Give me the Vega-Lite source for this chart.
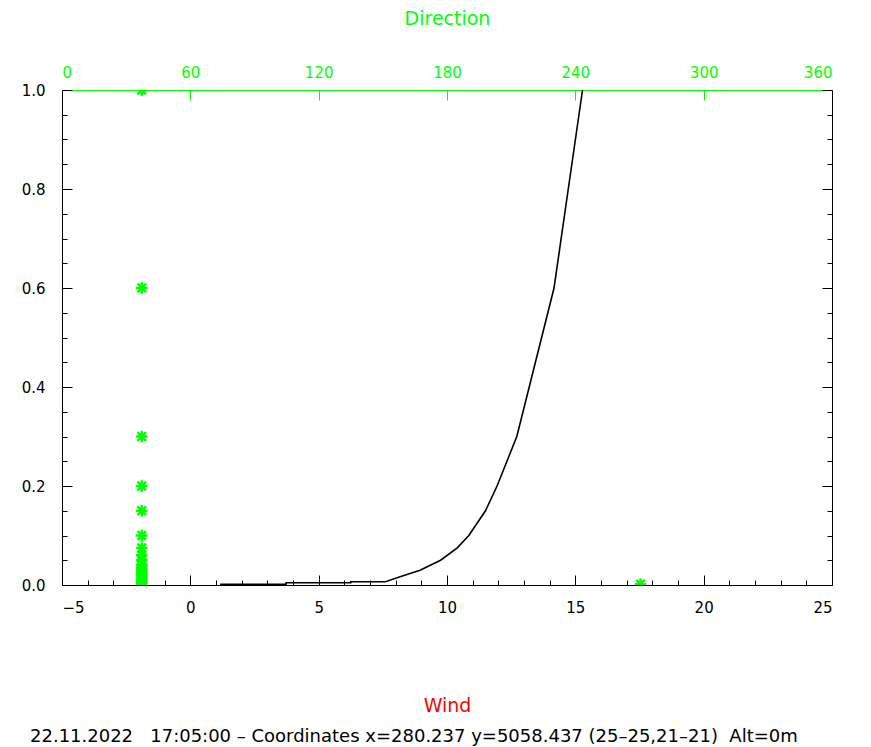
{
  "$schema": "https://vega.github.io/schema/vega-lite/v6.json",
  "autosize": {"type": "none"},
  "width": 770,
  "height": 495,
  "padding": {"left": 62, "top": 90, "right": 39, "bottom": 162},
  "background": "white",
  "view": {"stroke": null},
  "title": {
    "text": "22.11.2022\u00a0\u00a0\u00a017:05:00\u00a0–\u00a0Coordinates x=280.237 y=5058.437 (25–25,21–21)\u00a0\u00a0Alt=0m",
    "orient": "bottom",
    "anchor": "start",
    "frame": "group",
    "dx": -32,
    "font": "DejaVu Sans",
    "fontSize": 18,
    "fontWeight": "normal",
    "color": "black",
    "offset": 13
  },
  "config": {
    "font": "DejaVu Sans",
    "axis": {
      "labelFont": "DejaVu Sans",
      "labelFontSize": 15,
      "labelColor": "black",
      "tickColor": "black",
      "domainColor": "black",
      "grid": false,
      "titleFont": "DejaVu Sans",
      "titleFontWeight": "normal",
      "titleFontSize": 19
    }
  },
  "datasets": {
    "profile": [
      {"i": 0, "wind": 1.16, "z": 0.0015},
      {"i": 1, "wind": 3.73, "z": 0.0015},
      {"i": 2, "wind": 3.73, "z": 0.0045},
      {"i": 3, "wind": 6.25, "z": 0.0045},
      {"i": 4, "wind": 6.25, "z": 0.0067},
      {"i": 5, "wind": 7.6, "z": 0.0067},
      {"i": 6, "wind": 8.2, "z": 0.017},
      {"i": 7, "wind": 8.95, "z": 0.03},
      {"i": 8, "wind": 9.75, "z": 0.05},
      {"i": 9, "wind": 10.4, "z": 0.075},
      {"i": 10, "wind": 10.85, "z": 0.1},
      {"i": 11, "wind": 11.5, "z": 0.15},
      {"i": 12, "wind": 11.95, "z": 0.2},
      {"i": 13, "wind": 12.72, "z": 0.3},
      {"i": 14, "wind": 14.17, "z": 0.6},
      {"i": 15, "wind": 15.28, "z": 1.0}
    ],
    "dir": [
      {"direction": 37.3, "z": 1.0},
      {"direction": 37.3, "z": 0.6},
      {"direction": 37.3, "z": 0.3},
      {"direction": 37.3, "z": 0.2},
      {"direction": 37.3, "z": 0.15},
      {"direction": 37.3, "z": 0.1},
      {"direction": 37.3, "z": 0.075},
      {"direction": 37.3, "z": 0.06},
      {"direction": 37.3, "z": 0.05},
      {"direction": 37.3, "z": 0.04},
      {"direction": 37.3, "z": 0.035},
      {"direction": 37.3, "z": 0.03},
      {"direction": 37.3, "z": 0.025},
      {"direction": 37.3, "z": 0.02},
      {"direction": 37.3, "z": 0.015},
      {"direction": 37.3, "z": 0.01},
      {"direction": 37.3, "z": 0.0067},
      {"direction": 37.3, "z": 0.0045},
      {"direction": 37.3, "z": 0.0015},
      {"direction": 270.5, "z": 0.0015}
    ]
  },
  "resolve": {
    "scale": {"x": "independent", "y": "independent"},
    "axis": {"x": "independent", "y": "independent"}
  },
  "layer": [
    {
      "data": {"name": "profile"},
      "mark": {"type": "line", "color": "black", "strokeWidth": 1.6},
      "encoding": {
        "x": {
          "field": "wind", "type": "quantitative",
          "scale": {"domain": [-5, 25], "nice": false, "zero": false},
          "axis": {
            "orient": "bottom",
            "values": [-5, 0, 5, 10, 15, 20, 25],
            "tickSize": -10,
            "labelPadding": 25,
            "title": "Wind",
            "titleColor": "red",
            "titlePadding": 81
          }
        },
        "y": {
          "field": "z", "type": "quantitative",
          "scale": {"domain": [0, 1], "nice": false},
          "axis": {
            "orient": "left",
            "values": [0, 0.2, 0.4, 0.6, 0.8, 1.0],
            "format": ".1f",
            "tickSize": -10,
            "labelPadding": 27,
            "title": null
          }
        },
        "order": {"field": "i", "type": "quantitative"}
      }
    },
    {
      "data": {"name": "profile"},
      "mark": {"type": "point", "opacity": 0},
      "encoding": {
        "x": {
          "field": "wind", "type": "quantitative",
          "scale": {"domain": [-5, 25], "nice": false, "zero": false},
          "axis": {
            "orient": "bottom",
            "values": [-4, -3, -2, -1, 1, 2, 3, 4, 6, 7, 8, 9, 11, 12, 13, 14, 16, 17, 18, 19, 21, 22, 23, 24],
            "tickSize": -5,
            "labels": false,
            "domain": false,
            "title": null
          }
        },
        "y": {
          "field": "z", "type": "quantitative",
          "scale": {"domain": [0, 1], "nice": false},
          "axis": {
            "orient": "left",
            "values": [0.05, 0.1, 0.15, 0.25, 0.3, 0.35, 0.45, 0.5, 0.55, 0.65, 0.7, 0.75, 0.85, 0.9, 0.95],
            "tickSize": -5,
            "labels": false,
            "domain": false,
            "title": null
          }
        }
      }
    },
    {
      "data": {"name": "profile"},
      "mark": {"type": "point", "opacity": 0},
      "encoding": {
        "y": {
          "field": "z", "type": "quantitative",
          "scale": {"domain": [0, 1], "nice": false},
          "axis": {
            "orient": "right",
            "values": [0, 0.2, 0.4, 0.6, 0.8, 1.0],
            "tickSize": -10,
            "labels": false,
            "title": null
          }
        }
      }
    },
    {
      "data": {"name": "profile"},
      "mark": {"type": "point", "opacity": 0},
      "encoding": {
        "y": {
          "field": "z", "type": "quantitative",
          "scale": {"domain": [0, 1], "nice": false},
          "axis": {
            "orient": "right",
            "values": [0.05, 0.1, 0.15, 0.25, 0.3, 0.35, 0.45, 0.5, 0.55, 0.65, 0.7, 0.75, 0.85, 0.9, 0.95],
            "tickSize": -5,
            "labels": false,
            "domain": false,
            "title": null
          }
        }
      }
    },
    {
      "data": {"name": "dir"},
      "mark": {
        "type": "point",
        "shape": "M-1,0L1,0M0,-1L0,1M-0.75,-0.75L0.75,0.75M-0.75,0.75L0.75,-0.75",
        "filled": false,
        "color": "#00ff00",
        "strokeWidth": 2.5,
        "size": 130,
        "opacity": 1,
        "clip": true
      },
      "encoding": {
        "x": {
          "field": "direction", "type": "quantitative",
          "scale": {"domain": [0, 360], "nice": false, "zero": false},
          "axis": {
            "orient": "top",
            "values": [0, 60, 120, 180, 240, 300, 360],
            "tickSize": -10,
            "labelPadding": 20,
            "labelColor": "#00ff00",
            "tickColor": "#00ff00",
            "domainColor": "#00ff00",
            "title": "Direction",
            "titleColor": "#00ff00",
            "titlePadding": 37
          }
        },
        "y": {
          "field": "z", "type": "quantitative",
          "scale": {"domain": [0, 1], "nice": false},
          "axis": null
        }
      }
    }
  ]
}
